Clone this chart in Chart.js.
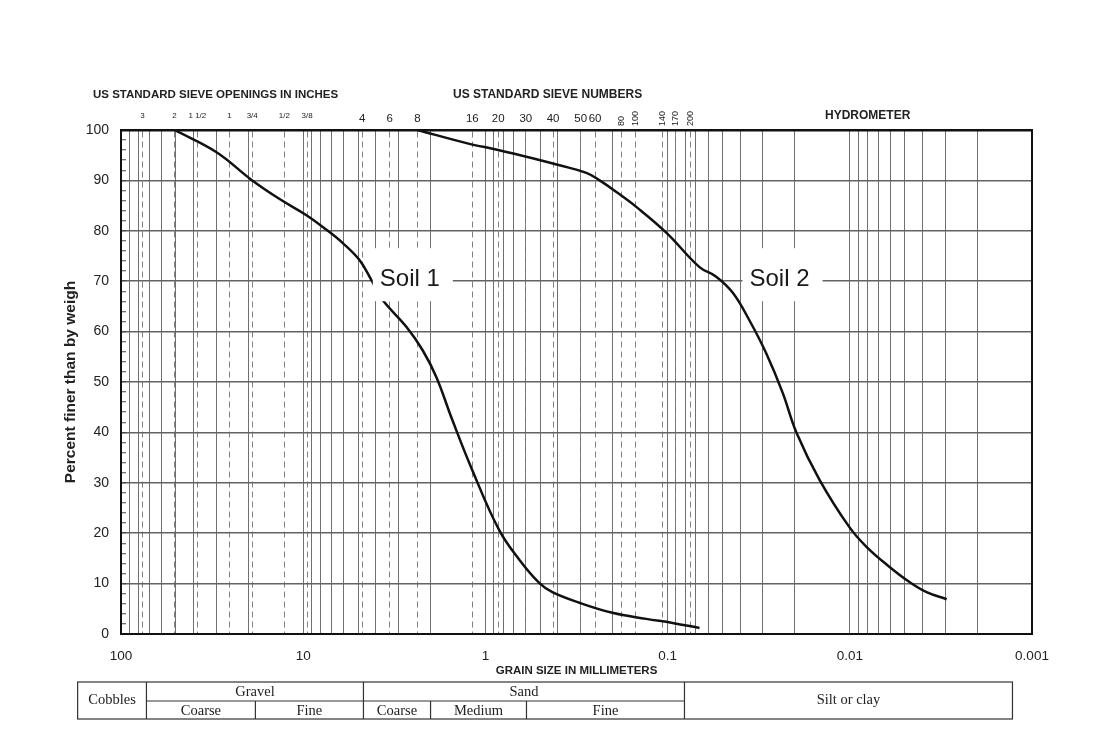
<!DOCTYPE html>
<html>
<head>
<meta charset="utf-8">
<title>Grain size distribution</title>
<script src="https://cdn.jsdelivr.net/npm/chart.js@4.4.1/dist/chart.umd.min.js"></script>
<style>
  html, body { margin: 0; padding: 0; background: #fff; }
  canvas { display: block; }
</style>
</head>
<body>
<canvas id="gradation" width="1102" height="739"></canvas>
<script>
// grain size (mm) and percent finer
const soil1Size = [50.8, 29.9, 19.2, 13.2, 9.6, 7.45, 6.08, 4.91, 4.22, 3.67, 2.71, 2.21, 1.86, 1.52, 1.18, 0.84, 0.65, 0.505, 0.429, 0.305, 0.201, 0.131, 0.094, 0.0668];
const soil1Pct  = [100, 95.6, 90.1, 86.1, 83.1, 80.2, 77.6, 74.2, 70.2, 66.3, 60.9, 56.3, 51, 42.5, 32.5, 20.6, 14.7, 10.1, 8.3, 6.2, 4.2, 3.0, 2.2, 1.2];
const soil2Size = [2.36, 1.27, 0.84, 0.551, 0.392, 0.279, 0.236, 0.191, 0.148, 0.1014, 0.0668, 0.0541, 0.04386, 0.03552, 0.02876, 0.02332, 0.01969, 0.01466, 0.01005, 0.0081, 0.00605, 0.0047, 0.00379, 0.00294];
const soil2Pct  = [100, 97.4, 96, 94.4, 93, 91.5, 90, 87.7, 84.7, 79.6, 72.8, 70.9, 67.7, 62.2, 55.7, 47.8, 40.1, 30.6, 21.2, 17.3, 13.3, 10.3, 8.3, 6.9];

// curve labels (left edge of the label box, in mm / %)
const soilLabelText = ['Soil 1', 'Soil 2'];
const soilLabelSize = [4.15, 0.0388];
const soilLabelPct  = [70, 70];

// sieve openings (mm) and their labels on top
const inchSizes   = [76.2, 50.8, 38.1, 25.4, 19.05, 12.7, 9.525];
const inchLabels  = ['3', '2', '1 1/2', '1', '3/4', '1/2', '3/8'];
const numberSizes  = [4.75, 3.35, 2.36, 1.18, 0.85, 0.6, 0.425, 0.3, 0.25];
const numberLabels = ['4', '6', '8', '16', '20', '30', '40', '50', '60'];
const fineSizes  = [0.18, 0.15, 0.106, 0.09, 0.075];
const fineLabels = ['80', '100', '140', '170', '200'];
const sieveSizes = [...inchSizes, ...numberSizes, ...fineSizes];

// x axis labels
const decadeValues = [100, 10, 1, 0.1, 0.01, 0.001];
const decadeLabels = ['100', '10', '1', '0.1', '0.01', '0.001'];

// soil classification strip under the chart (bounds in mm)
const classTopNames  = ['Cobbles', 'Gravel', 'Sand', 'Silt or clay'];
const classTopBounds = [173, 72.5, 4.67, 0.0808, 0.00128];
const classSubNames  = ['Coarse', 'Fine', 'Coarse', 'Medium', 'Fine'];
const classSubBounds = [72.5, 18.3, 4.67, 2.0, 0.595, 0.0808];

// log paper lines: 1..9 in every decade
const gridSizes = [100];
for (let k = 1; k >= -3; k--) {
  for (let m = 9; m >= 1; m--) gridSizes.push(Number((m * Math.pow(10, k)).toPrecision(3)));
}

const yTickValues = [];
for (let v = 0; v <= 100; v += 2) yTickValues.push(v);

const SANS = '"Liberation Sans", Arial, sans-serif';
const SERIF = '"Liberation Serif", "Times New Roman", serif';

function decadeLabel(v) {
  for (let i = 0; i < decadeValues.length; i++) {
    if (Math.abs(Math.log10(v) - Math.log10(decadeValues[i])) < 1e-6) return decadeLabels[i];
  }
  return '';
}

const decorPlugin = {
  id: 'decor',
  afterDatasetsDraw(chart) {
    const ctx = chart.ctx;
    const xs = chart.scales.x, ys = chart.scales.y;
    ctx.save();
    ctx.font = '24px ' + SANS;
    soilLabelText.forEach((t, i) => {
      const px = xs.getPixelForValue(soilLabelSize[i]);
      const py = ys.getPixelForValue(soilLabelPct[i]);
      const w = ctx.measureText(t).width;
      ctx.fillStyle = '#fff';
      ctx.fillRect(px, py - 33, w + 20, 53);
      ctx.fillStyle = '#1a1a1a';
      ctx.textAlign = 'left';
      ctx.textBaseline = 'alphabetic';
      ctx.fillText(t, px + 7, py + 5);
    });
    ctx.restore();
  },
  afterDraw(chart) {
    const ctx = chart.ctx;
    const xs = chart.scales.x;
    const area = chart.chartArea;
    ctx.save();
    ctx.fillStyle = '#222';

    // headings over the chart
    ctx.textAlign = 'left';
    ctx.textBaseline = 'alphabetic';
    ctx.font = 'bold 11.5px ' + SANS;
    ctx.fillText('US STANDARD SIEVE OPENINGS IN INCHES', area.left - 28, 98);
    ctx.font = 'bold 12px ' + SANS;
    ctx.fillText('US STANDARD SIEVE NUMBERS', 453, 98);
    ctx.fillText('HYDROMETER', 825, 119);

    // sieve labels
    ctx.textAlign = 'center';
    ctx.font = '8px ' + SANS;
    inchSizes.forEach((s, i) => ctx.fillText(inchLabels[i], xs.getPixelForValue(s), 118));
    ctx.font = '11.5px ' + SANS;
    numberSizes.forEach((s, i) => ctx.fillText(numberLabels[i], xs.getPixelForValue(s), 122));
    ctx.font = '9px ' + SANS;
    ctx.textAlign = 'left';
    ctx.textBaseline = 'middle';
    fineSizes.forEach((s, i) => {
      ctx.save();
      ctx.translate(xs.getPixelForValue(s), 126);
      ctx.rotate(-Math.PI / 2);
      ctx.fillText(fineLabels[i], 0, 0);
      ctx.restore();
    });

    // classification strip
    const top = area.bottom + 48, mid = area.bottom + 67, bot = area.bottom + 85;
    const px = v => xs.getPixelForValue(v);
    ctx.strokeStyle = '#333';
    ctx.lineWidth = 1.2;
    ctx.strokeRect(px(classTopBounds[0]), top, px(classTopBounds[4]) - px(classTopBounds[0]), bot - top);
    ctx.beginPath();
    classTopBounds.slice(1, 4).forEach(b => { ctx.moveTo(px(b), top); ctx.lineTo(px(b), bot); });
    ctx.moveTo(px(classSubBounds[0]), mid);
    ctx.lineTo(px(classSubBounds[5]), mid);
    [classSubBounds[1], classSubBounds[3], classSubBounds[4]].forEach(b => { ctx.moveTo(px(b), mid); ctx.lineTo(px(b), bot); });
    ctx.stroke();

    ctx.font = '14.5px ' + SERIF;
    ctx.textAlign = 'center';
    ctx.textBaseline = 'middle';
    ctx.fillStyle = '#222';
    classTopNames.forEach((n, i) => {
      const cx = (px(classTopBounds[i]) + px(classTopBounds[i + 1])) / 2;
      const single = (i === 0 || i === 3);
      ctx.fillText(n, cx, single ? (top + bot) / 2 : (top + mid) / 2 + 1);
    });
    classSubNames.forEach((n, i) => {
      const cx = (px(classSubBounds[i]) + px(classSubBounds[i + 1])) / 2;
      ctx.fillText(n, cx, (mid + bot) / 2 + 1);
    });
    ctx.restore();
  }
};

function makeData(sizes, pcts) {
  return sizes.map((s, i) => ({ x: s, y: pcts[i] }));
}

const chart = new Chart(document.getElementById('gradation'), {
  type: 'scatter',
  data: {
    datasets: [
      { label: 'Soil 1', data: makeData(soil1Size, soil1Pct) },
      { label: 'Soil 2', data: makeData(soil2Size, soil2Pct) }
    ].map(d => Object.assign(d, {
      showLine: true, borderColor: '#111', borderWidth: 2.5, pointRadius: 0,
      tension: 0.4, xAxisID: 'x', yAxisID: 'y'
    }))
  },
  options: {
    responsive: false,
    animation: false,
    layout: { padding: { left: 56, right: 70, top: 0, bottom: 57 } },
    plugins: { legend: { display: false }, tooltip: { enabled: false } },
    scales: {
      x: {
        type: 'logarithmic', position: 'bottom', reverse: true, min: 0.001, max: 100,
        afterBuildTicks: s => { s.ticks = gridSizes.map(v => ({ value: v })); },
        afterFit: s => { s.height = 48; },
        ticks: {
          autoSkip: false, maxRotation: 0, minRotation: 0, padding: 14, color: '#222',
          font: { family: SANS, size: 13.5 },
          callback: v => decadeLabel(v)
        },
        grid: { color: '#707070', lineWidth: 1, drawTicks: false },
        border: { color: '#111', width: 2 },
        title: {
          display: true, text: 'GRAIN SIZE IN MILLIMETERS', color: '#222',
          font: { family: SANS, size: 11.5, weight: 'bold' }, padding: { top: 0, bottom: 4 }
        }
      },
      xSieve: {
        type: 'logarithmic', position: 'top', reverse: true, min: 0.001, max: 100,
        afterBuildTicks: s => { s.ticks = sieveSizes.map(v => ({ value: v })); },
        afterFit: s => { s.height = 130; },
        ticks: { display: false, autoSkip: false },
        grid: { color: '#808080', lineWidth: 1, drawTicks: false },
        border: { color: '#111', width: 2.5, dash: [6, 4] }
      },
      y: {
        type: 'linear', position: 'left', min: 0, max: 100,
        afterBuildTicks: s => { s.ticks = yTickValues.map(v => ({ value: v })); },
        afterFit: s => { s.width = 65; },
        ticks: {
          autoSkip: false, padding: 17, color: '#222', font: { family: SANS, size: 14 },
          callback: v => (v % 10 === 0 ? String(v) : '')
        },
        grid: {
          color: c => (c.tick && c.tick.value % 10 === 0) ? '#636363' : 'rgba(0,0,0,0)',
          lineWidth: 1.5, drawTicks: true, tickLength: -5, tickColor: '#444', tickWidth: 1
        },
        border: { color: '#111', width: 2 },
        title: {
          display: true, text: 'Percent finer than by weigh', color: '#222',
          font: { family: SANS, size: 15.5, weight: 'bold' }, padding: { top: 5, bottom: 0 }
        }
      },
      yRight: {
        type: 'linear', position: 'right', min: 0, max: 100,
        afterFit: s => { s.width = 0; },
        ticks: { display: false },
        grid: { drawOnChartArea: false, drawTicks: false },
        border: { color: '#111', width: 2 }
      }
    }
  },
  plugins: [decorPlugin]
});
</script>
</body>
</html>
